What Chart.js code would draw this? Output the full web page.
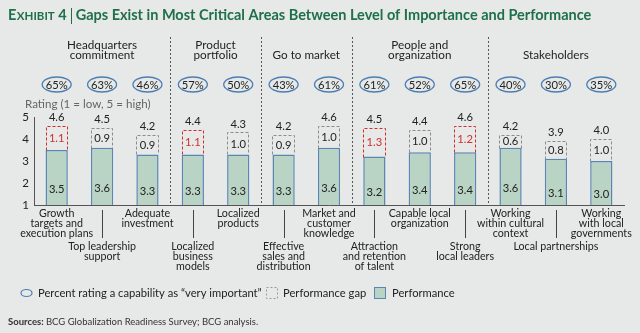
<!DOCTYPE html>
<html><head><meta charset="utf-8">
<script src="https://cdn.jsdelivr.net/npm/chart.js@4.4.1/dist/chart.umd.min.js"></script>
<style>
html,body{margin:0;padding:0;background:#e6e9e7;}
canvas{display:block;}
</style></head><body>
<canvas id="c" width="640" height="333"></canvas>
<script>
// ---- data ----
const categories = [
  ['Growth','targets and','execution plans'],
  ['Top leadership','support'],
  ['Adequate','investment'],
  ['Localized','business','models'],
  ['Localized','products'],
  ['Effective','sales and','distribution'],
  ['Market and','customer','knowledge'],
  ['Attraction','and retention','of talent'],
  ['Capable local','organization'],
  ['Strong','local leaders'],
  ['Working','within cultural','context'],
  ['Local partnerships'],
  ['Working','with local','governments']
];
const performance = [3.5,3.6,3.3,3.3,3.3,3.3,3.6,3.2,3.4,3.4,3.6,3.1,3.0];
const gap         = [1.1,0.9,0.9,1.1,1.0,0.9,1.0,1.3,1.0,1.2,0.6,0.8,1.0];
const importance  = [4.6,4.5,4.2,4.4,4.3,4.2,4.6,4.5,4.4,4.6,4.2,3.9,4.0];
const pctVeryImportant = [65,63,46,57,50,43,61,61,52,65,40,30,35];
const redGap = [1,0,0,1,0,0,0,1,0,1,0,0,0];
const groupNames = [['Headquarters','commitment'],['Product','portfolio'],['Go to market'],['People and','organization'],['Stakeholders']];
const groupStart = [0,3,5,7,10];
const groupEnd   = [2,4,6,9,12];
const yTicks = [1,2,3,4,5];

const FONT = 'Lato';
const TXT = '#222';
const GREEN_FILL = '#b9d4c5';
const BLUE = '#5a86b3';
const RED = '#cf2e2e';
const GRAY_DASH = '#8c8c8c';

function font(size, weight){ return (weight||'normal') + ' ' + size + 'px ' + FONT; }

const decor = {
  id: 'decor',
  beforeDraw(chart){
    const c = chart.ctx; c.save();
    c.fillStyle = '#e6e9e7'; c.fillRect(0,0,chart.width,chart.height);
    c.restore();
  },
  afterDatasetsDraw(chart){
    const c = chart.ctx;
    const xs = chart.scales.x;
    const area = chart.chartArea;
    const px = i => xs.getPixelForValue(i);
    c.save();

    // title
    c.fillStyle = '#1e6f4b';
    c.textBaseline = 'alphabetic';
    c.textAlign = 'left';
    let tx = 8;
    c.font = font(14.5,'bold'); c.fillText('E', tx, 20); tx += c.measureText('E').width;
    c.font = font(11.5,'bold'); c.fillText('XHIBIT', tx+0.5, 20); tx += c.measureText('XHIBIT').width + 0.5;
    c.font = font(14.5,'bold'); c.fillText(' 4', tx, 20); tx += c.measureText(' 4').width;
    c.strokeStyle = '#1e6f4b'; c.lineWidth = 1;
    c.beginPath(); c.moveTo(Math.round(tx+4)+0.5, 8); c.lineTo(Math.round(tx+4)+0.5, 24); c.stroke();
    c.font = font(14.5,'bold');
    c.fillText('Gaps Exist in Most Critical Areas Between Level of Importance and Performance', tx+9, 20);

    // group separators
    c.strokeStyle = '#555'; c.lineWidth = 1; c.setLineDash([2,2]);
    for (let g = 1; g < groupStart.length; g++){
      const x = Math.round((px(groupStart[g]-1) + px(groupStart[g]))/2) + 0.5;
      c.beginPath(); c.moveTo(x, 37); c.lineTo(x, area.bottom); c.stroke();
    }
    c.setLineDash([]);

    // group headers
    c.fillStyle = TXT; c.textAlign = 'center'; c.textBaseline = 'middle';
    c.font = font(11.7);
    groupNames.forEach((lines, g) => {
      const x = (px(groupStart[g]) + px(groupEnd[g]))/2;
      const y0 = lines.length === 2 ? 45 : 55;
      lines.forEach((t, k) => c.fillText(t, x, y0 + k*10.5));
    });

    // ovals with percentages
    c.font = font(11.2);
    pctVeryImportant.forEach((p, i) => {
      const x = px(i);
      c.strokeStyle = '#4d7db3'; c.lineWidth = 1.3;
      c.beginPath(); c.ellipse(x, 84.5, 14.5, 7.5, 0, 0, Math.PI*2); c.stroke();
      c.fillStyle = TXT; c.fillText(p + '%', x, 85);
    });

    // rating caption
    c.fillStyle = '#666'; c.textAlign = 'left'; c.font = font(11.6);
    c.fillText('Rating (1 = low, 5 = high)', 25, 104);

    // dashed gap boxes + labels
    const m0 = chart.getDatasetMeta(0), m1 = chart.getDatasetMeta(1);
    c.textAlign = 'center'; c.font = font(11.2);
    m1.data.forEach((el, i) => {
      const w = el.width;
      const l = Math.round(el.x - w/2) + 0.5, r = Math.round(el.x + w/2) - 0.5;
      const t = Math.round(el.y) + 0.5, b = Math.round(el.base) + 0.5;
      c.strokeStyle = redGap[i] ? RED : GRAY_DASH; c.lineWidth = 1; c.setLineDash([3,2]);
      c.beginPath(); c.moveTo(l, b); c.lineTo(l, t); c.lineTo(r, t); c.lineTo(r, b); c.stroke();
      c.setLineDash([]);
      c.fillStyle = redGap[i] ? RED : TXT;
      c.fillText(gap[i].toFixed(1), el.x, (el.y + el.base)/2 + 0.5);
      c.fillStyle = TXT;
      c.fillText(importance[i].toFixed(1), el.x, el.y - 8.5);
      const pe = m0.data[i];
      c.fillText(performance[i].toFixed(1), pe.x, (pe.y + pe.base)/2 + 0.5);
    });

    // category labels and tick lines
    c.font = font(10.7); c.fillStyle = TXT;
    categories.forEach((lines, i) => {
      const x = px(i);
      const y0 = i % 2 === 0 ? 214 : 247;
      lines.forEach((t, k) => c.fillText(t, x, y0 + k*9.7));
      if (i % 2 === 1){
        c.strokeStyle = '#444'; c.lineWidth = 1;
        const xx = Math.round(x) + 0.5;
        c.beginPath(); c.moveTo(xx, 210); c.lineTo(xx, 238); c.stroke();
      }
    });

    // legend
    const ly = 293;
    c.font = font(11.2); c.textAlign = 'left'; c.fillStyle = TXT;
    c.strokeStyle = '#4d7db3'; c.lineWidth = 1.2;
    c.beginPath(); c.ellipse(26.5, ly, 5.5, 3.5, 0, 0, Math.PI*2); c.stroke();
    c.fillText('Percent rating a capability as \u201Cvery important\u201D', 38, ly);
    c.strokeStyle = '#999'; c.lineWidth = 1; c.setLineDash([2,2]);
    c.strokeRect(266.5, 287.5, 11, 11); c.setLineDash([]);
    c.fillText('Performance gap', 283, ly);
    c.fillStyle = GREEN_FILL; c.fillRect(374, 287, 12, 12);
    c.strokeStyle = BLUE; c.strokeRect(374.5, 287.5, 11, 11);
    c.fillStyle = TXT; c.fillText('Performance', 392, ly);

    // sources
    c.font = font(9.5,'bold'); c.fillStyle = '#333';
    c.fillText('Sources:', 8, 322);
    const sw = c.measureText('Sources: ').width;
    c.font = font(9.5);
    c.fillText('BCG Globalization Readiness Survey; BCG analysis.', 8 + sw, 322);

    c.restore();
  }
};

new Chart(document.getElementById('c').getContext('2d'), {
  type: 'bar',
  data: {
    labels: categories.map(l => l.join(' ')),
    datasets: [
      { label: 'Performance', data: performance, backgroundColor: GREEN_FILL, borderColor: BLUE,
        borderWidth: 1.5, borderSkipped: 'start', barPercentage: 0.49, categoryPercentage: 1, stack: 's' },
      { label: 'Performance gap', data: gap, backgroundColor: 'rgba(0,0,0,0)', borderWidth: 0,
        barPercentage: 0.49, categoryPercentage: 1, stack: 's' }
    ]
  },
  options: {
    responsive: false, animation: false, devicePixelRatio: 1,
    layout: { padding: { left: 0, right: 16, top: 117, bottom: 128 } },
    plugins: { legend: { display: false }, tooltip: { enabled: false } },
    scales: {
      x: { stacked: true, grid: { display: false, drawTicks: false }, border: { color: '#555', width: 1 },
           ticks: { display: false }, afterFit: s => { s.height = 0; } },
      y: { stacked: true, min: 1, max: 5, grid: { display: false, drawTicks: false },
           border: { color: '#555', width: 1 },
           afterBuildTicks: s => { s.ticks = yTicks.map(v => ({ value: v })); },
           ticks: { color: TXT, font: { family: FONT, size: 11.5 }, padding: 5 },
           afterFit: s => { s.width = 34; } }
    }
  },
  plugins: [decor]
});
</script>
</body></html>
